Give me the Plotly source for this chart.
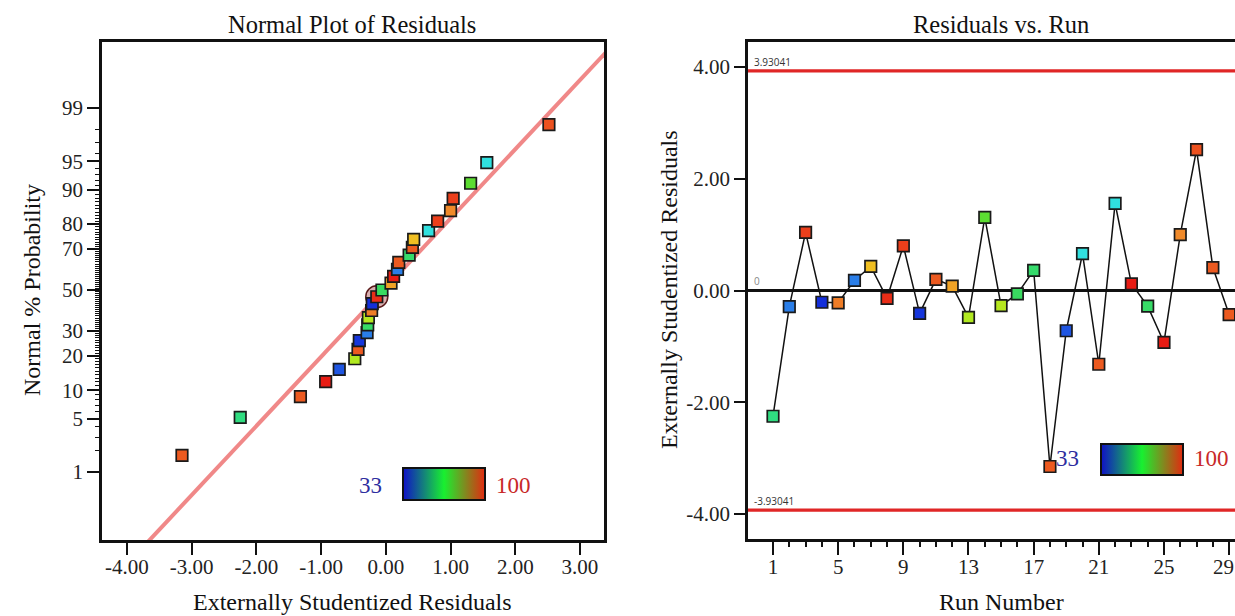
import plotly.graph_objects as go
from statistics import NormalDist

# ---------------- data ----------------
runs = list(range(1, 30))
residuals = [-2.25, -0.29, 1.04, -0.21, -0.22, 0.18, 0.43, -0.14, 0.80, -0.41,
             0.20, 0.08, -0.48, 1.31, -0.27, -0.06, 0.36, -3.15, -0.72, 0.66,
             -1.32, 1.56, 0.12, -0.28, -0.93, 1.00, 2.52, 0.41, -0.43]
color_values = [58.1, 41.4, 97.3, 34.3, 92.6, 41.4, 85.3, 98.7, 97.3, 35.0,
                95.3, 88.6, 75.9, 68.5, 76.5, 61.8, 60.5, 95.3, 37.7, 49.8,
                95.3, 49.8, 100.0, 61.0, 100.0, 91.6, 96.0, 95.3, 95.3]
color_min, color_max = 33, 100
highlighted_run = 8

prob_ticks = [1, 5, 10, 20, 30, 50, 70, 80, 90, 95, 99]
prob_minor = [p for p in range(2, 99) if p not in prob_ticks]
resid_ticks = [-4, -3, -2, -1, 0, 1, 2, 3]
resid_ticktext = ["-4.00", "-3.00", "-2.00", "-1.00", "0.00", "1.00", "2.00", "3.00"]
run_ticks = [1, 5, 9, 13, 17, 21, 25, 29]
run_minor = [r for r in runs if r not in run_ticks]
res_run_ticks = [-4, -2, 0, 2, 4]
res_run_ticktext = ["-4.00", "-2.00", "0.00", "2.00", "4.00"]
limit_value = 3.93041
fit_mu, fit_sigma = -0.035, 1.131

# ---------------- helpers ----------------
W, H = 1235, 616
nd = NormalDist()
def px(x):
    return x / W
def py(y):
    return 1 - y / H

marker_scale = [[0.0, '#1020d8'], [0.125, '#2a7ee8'], [0.25, '#30e0e0'],
                [0.375, '#30dc80'], [0.5, '#44d838'], [0.625, '#a8ec20'],
                [0.75, '#f0d020'], [0.875, '#f08a2a'], [1.0, '#e81c14']]
bar_scale = [[0.0, '#1010c8'], [0.5, '#18f030'], [1.0, '#e22a10']]

n = len(residuals)
order = sorted(range(n), key=lambda i: residuals[i])
sorted_x = [residuals[i] for i in order]
sorted_c = [color_values[i] for i in order]
sorted_z = [nd.inv_cdf((k + 0.5) / n) for k in range(n)]
hi_pos = order.index(highlighted_run - 1)

x1_range = [-4.386, 3.371]
y1_range = [-3.196, 3.170]
x2_range = [-0.535, 29.36]
y2_range = [-4.447, 4.447]

fig = go.Figure()

# fitted normal line
line_x = [-4.6, 3.6]
line_z = [(v - fit_mu) / fit_sigma for v in line_x]
fig.add_trace(go.Scatter(x=line_x, y=line_z, mode='lines',
                         line=dict(color='#f08888', width=4),
                         xaxis='x', yaxis='y', hoverinfo='skip', showlegend=False))

# highlighted point circle
fig.add_trace(go.Scatter(x=[sorted_x[hi_pos]], y=[sorted_z[hi_pos]], mode='markers',
                         marker=dict(symbol='circle', size=22, color='rgba(170,80,80,0.45)',
                                     line=dict(color='#5a1a1a', width=1.5)),
                         xaxis='x', yaxis='y', hoverinfo='skip', showlegend=False))

marker_common = dict(symbol='square', size=11.5, cmin=color_min, cmax=color_max,
                     colorscale=marker_scale, line=dict(color='#1a1a1a', width=1.7))

fig.add_trace(go.Scatter(x=sorted_x, y=sorted_z, mode='markers',
                         marker=dict(color=sorted_c, **marker_common),
                         xaxis='x', yaxis='y', showlegend=False))

fig.add_trace(go.Scatter(x=runs, y=residuals, mode='lines+markers',
                         line=dict(color='#111111', width=1.5),
                         marker=dict(color=color_values, **marker_common),
                         xaxis='x2', yaxis='y2', showlegend=False))

# invisible traces that carry the minor-tick overlay axes
fig.add_trace(go.Scatter(x=[0], y=[0], mode='markers', marker=dict(opacity=0),
                         xaxis='x', yaxis='y3', showlegend=False, hoverinfo='skip'))
fig.add_trace(go.Scatter(x=[15], y=[0], mode='markers', marker=dict(opacity=0),
                         xaxis='x3', yaxis='y2', showlegend=False, hoverinfo='skip'))

# colour legend bars
def bar_trace(xa, ya, cx, top, length, thick):
    return go.Scatter(x=[None], y=[None], mode='markers', xaxis=xa, yaxis=ya,
                      showlegend=False, hoverinfo='skip',
                      marker=dict(color=[color_min], cmin=color_min, cmax=color_max,
                                  colorscale=bar_scale, showscale=True,
                                  colorbar=dict(orientation='h', x=px(cx), xanchor='center',
                                                y=py(top), yanchor='top',
                                                lenmode='pixels', len=length,
                                                thicknessmode='pixels', thickness=thick,
                                                xpad=0, ypad=0, outlinewidth=2,
                                                outlinecolor='#111111',
                                                showticklabels=False, ticks='')))

fig.add_trace(bar_trace('x', 'y', 444, 468, 82, 32))
fig.add_trace(bar_trace('x2', 'y2', 1142, 444, 82, 31))

tick_font = dict(family='Liberation Serif', size=21, color='#222222')
frame = dict(showline=True, linecolor='#111111', linewidth=2.5, showgrid=False,
             zeroline=False, automargin=False, tickfont=tick_font,
             ticks='outside', tickcolor='#111111', tickwidth=2)
minor_axis = dict(showline=False, showgrid=False, zeroline=False, automargin=False,
                  showticklabels=False, ticks='outside', tickcolor='#111111')

fig.update_layout(
    width=W, height=H, autosize=False,
    margin=dict(l=0, r=0, t=0, b=0),
    paper_bgcolor='white', plot_bgcolor='white',
    xaxis=dict(domain=[px(102), px(604)], range=x1_range,
               tickvals=resid_ticks, ticktext=resid_ticktext, ticklen=12,
               ticklabelstandoff=-6,
               mirror=True, anchor='y', **frame),
    yaxis=dict(domain=[py(540), py(42)], range=y1_range,
               tickvals=[nd.inv_cdf(p / 100) for p in prob_ticks],
               ticktext=[str(p) for p in prob_ticks], ticklen=12,
               mirror=True, anchor='x', **frame),
    yaxis3=dict(overlaying='y', anchor='x', side='left', range=y1_range,
                tickmode='array', tickvals=[nd.inv_cdf(p / 100) for p in prob_minor],
                ticktext=['' for p in prob_minor],
                ticklen=6, tickwidth=1, **minor_axis),
    xaxis2=dict(domain=[px(748), 1.0], range=x2_range,
                tickvals=run_ticks,
                ticktext=[str(r) if r != run_ticks[-1] else '' for r in run_ticks],
                ticklen=13, ticklabelstandoff=-6,
                mirror=True, anchor='y2', **frame),
    xaxis3=dict(overlaying='x2', anchor='y2', side='bottom', range=x2_range,
                tickmode='array', tickvals=run_minor, ticktext=['' for r in run_minor],
                ticklen=7, tickwidth=1.6, **minor_axis),
    yaxis2=dict(domain=[py(539), py(42)], range=y2_range,
                tickvals=res_run_ticks, ticktext=res_run_ticktext, ticklen=11,
                mirror=False, anchor='x2', zerolinecolor='#111111', **frame),
)
fig.update_layout(yaxis2=dict(zeroline=True, zerolinewidth=2.5))

# limit lines
for v in (limit_value, -limit_value):
    fig.add_shape(type='line', xref='x2 domain', yref='y2', x0=0, x1=1.02, y0=v, y1=v,
                  line=dict(color='#e02626', width=3.2), layer='above')

small_font = dict(family='Open Sans', size=10, color='#333333')
for v, txt in ((limit_value, f"{limit_value:.5f}"), (0, "0"), (-limit_value, f"{-limit_value:.5f}")):
    fig.add_annotation(xref='x2 domain', yref='y2', x=0.008, y=v, text=txt,
                       showarrow=False, xanchor='left', yanchor='bottom',
                       font=small_font if v != 0 else dict(family='Open Sans', size=10, color='#888888'))

serif = 'Liberation Serif'
def label(x, y, text, size=24, color='#111111', angle=0, xanchor='center'):
    fig.add_annotation(xref='paper', yref='paper', x=px(x), y=py(y), text=text,
                       showarrow=False, xanchor=xanchor, yanchor='middle', textangle=angle,
                       font=dict(family=serif, size=size, color=color))

fig.add_annotation(xref='paper', yref='paper', x=1.0, y=py(567), text=str(run_ticks[-1]),
                   showarrow=False, xanchor='right', yanchor='middle', borderpad=0,
                   font=tick_font)

label(352, 24, 'Normal Plot of Residuals', size=24.5)
label(1001, 24, 'Residuals vs. Run', size=24.5)
label(352, 602, 'Externally Studentized Residuals')
label(1001, 602, 'Run Number')
label(32, 290, 'Normal % Probability', angle=-90)
label(669, 290, 'Externally Studentized Residuals', angle=-90)
label(370, 485, str(color_min), size=23, color='#2e2ea0')
label(513, 485, str(color_max), size=23, color='#c82828')
label(1067, 458, str(color_min), size=23, color='#2e2ea0')
label(1211, 458, str(color_max), size=23, color='#c82828')

fig.write_html("out.html")
